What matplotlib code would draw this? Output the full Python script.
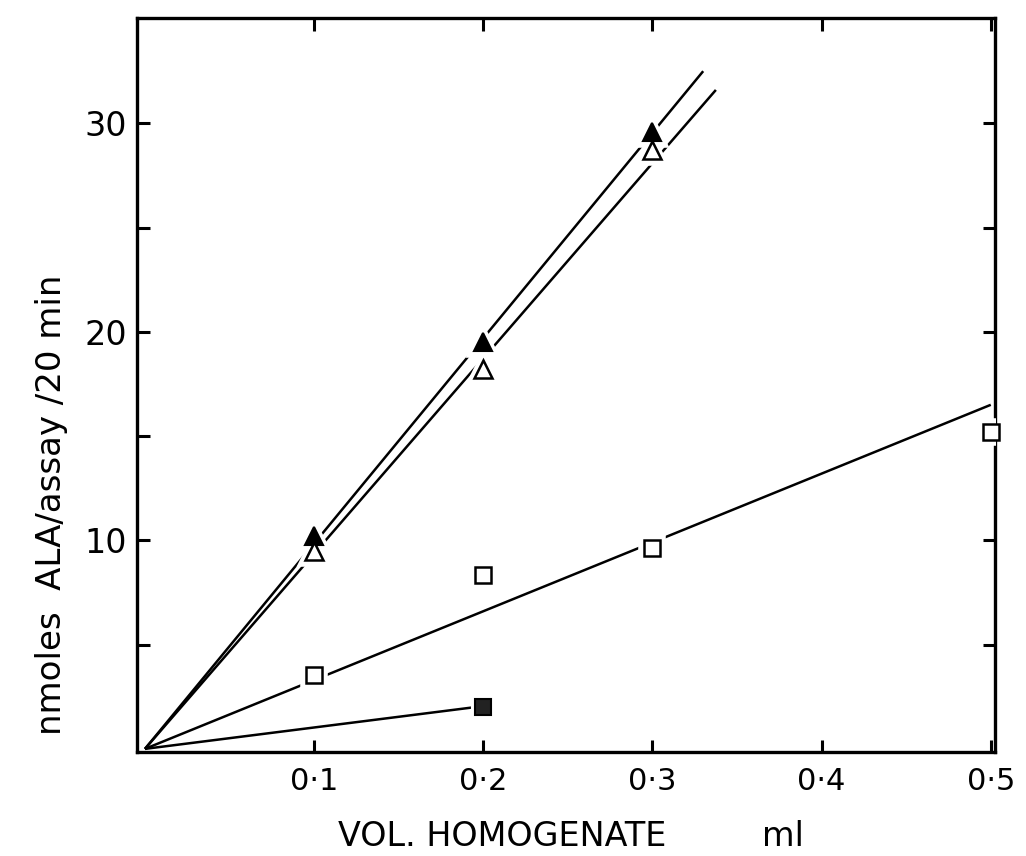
import matplotlib
matplotlib.use("Agg")
import matplotlib.pyplot as plt
import numpy as np

# Data
x_vals = [0.1, 0.2, 0.3]
filled_tri = [10.2, 19.5, 29.6]
open_tri = [9.5, 18.2, 28.7]
sq_x = [0.1, 0.2, 0.3, 0.5]
open_sq = [3.55, 8.35, 9.65, 15.2]
fsq_x = [0.2]
filled_sq = [2.0]

# fitted lines (start, end)
line_filled_tri = ([0.0, 0.330], [0.0, 32.5])
line_open_tri = ([0.0, 0.3375], [0.0, 31.6])
line_open_sq = ([0.0, 0.5], [0.0, 16.5])
line_filled_sq = ([0.0, 0.195], [0.0, 2.0])

xticks = [0.1, 0.2, 0.3, 0.4, 0.5]
xticklabels = ["0·1", "0·2", "0·3", "0·4", "0·5"]
yticks = [5, 10, 15, 20, 25, 30]
yticklabels = ["", "10", "", "20", "", "30"]

plt.rcParams['font.family'] = ['DejaVu Sans']

fig = plt.figure(figsize=(10.26, 8.56), dpi=100)
ax = fig.add_axes([137/1026, 1-752/856, 858/1026, 734/856])
ax.set_xlim(-0.0047, 0.5025)
ax.set_ylim(-0.15, 35.05)

lw = 1.8
for lx, ly in [line_filled_tri, line_open_tri, line_open_sq, line_filled_sq]:
    ax.plot(lx, ly, color='black', lw=lw, solid_capstyle='butt', zorder=2)

# white halos to break the lines around markers
halo = dict(linestyle='none', color='white', markeredgecolor='white', zorder=3)
ax.plot(x_vals, filled_tri, marker='^', markersize=19, markeredgewidth=4, **halo)
ax.plot(x_vals, open_tri, marker='^', markersize=19, markeredgewidth=4, **halo)
ax.plot(sq_x, open_sq, marker='s', markersize=16, markeredgewidth=4, **halo)
ax.plot(fsq_x, filled_sq, marker='s', markersize=14, markeredgewidth=3, **halo)

ax.plot(x_vals, filled_tri, linestyle='none', marker='^', markersize=13,
        color='black', markeredgecolor='black', markeredgewidth=1.5, zorder=4)
ax.plot(x_vals, open_tri, linestyle='none', marker='^', markersize=13,
        markerfacecolor='white', markeredgecolor='black', markeredgewidth=1.8, zorder=4)
ax.plot(sq_x, open_sq, linestyle='none', marker='s', markersize=11,
        markerfacecolor='white', markeredgecolor='black', markeredgewidth=1.8, zorder=4,
        clip_on=False)
ax.plot(fsq_x, filled_sq, linestyle='none', marker='s', markersize=11,
        color='#222222', markeredgecolor='black', markeredgewidth=1.5, zorder=4)

for s in ax.spines.values():
    s.set_linewidth(2.4)

ax.set_xticks(xticks)
ax.set_xticklabels(xticklabels, fontsize=22)
ax.set_yticks(yticks)
ax.set_yticklabels(yticklabels, fontsize=24)
ax.tick_params(axis='both', direction='in', length=9, width=2.2,
               top=True, right=True)
ax.tick_params(axis='x', pad=11)
ax.tick_params(axis='y', pad=7)

fig.text(52/1026, 1-505/856, "nmoles  ALA/assay /20 min", rotation=90,
         ha='center', va='center', fontsize=24.5)
fig.text(571/1026, 1-836/856, "VOL. HOMOGENATE         ml",
         ha='center', va='center', fontsize=24)

fig.savefig("out.png", dpi=100)
